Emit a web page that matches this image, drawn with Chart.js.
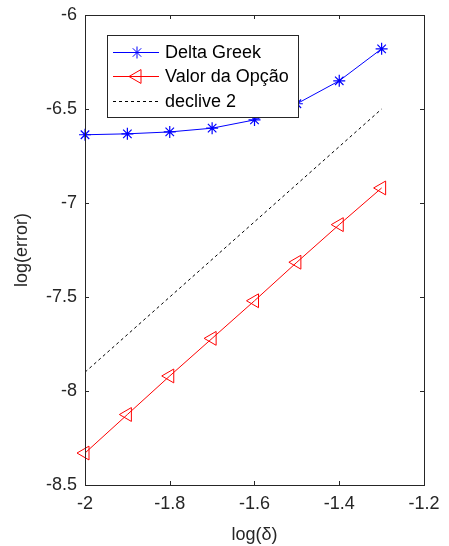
<!DOCTYPE html>
<html>
<head>
<meta charset="utf-8">
<script src="https://cdn.jsdelivr.net/npm/chart.js@4.4.0/dist/chart.umd.min.js"></script>
<style>
  html, body { margin: 0; padding: 0; background: #fff; }
  #wrap { width: 449px; height: 546px; }
</style>
</head>
<body>
<div id="wrap"><canvas id="chart" width="449" height="546"></canvas></div>
<script>
// Data
const logDelta = [-2, -1.9, -1.8, -1.7, -1.6, -1.5, -1.4, -1.3];
const deltaGreek = [-6.637, -6.632, -6.622, -6.602, -6.558, -6.472, -6.350, -6.180];
const valorOpcao = [-8.330, -8.125, -7.920, -7.720, -7.520, -7.315, -7.115, -6.920];
const slopeX = [-2, -1.3];
const slopeY = [-7.9, -6.5];
const xTicks = [-2, -1.8, -1.6, -1.4, -1.2];
const yTicks = [-8.5, -8, -7.5, -7, -6.5, -6];

const toPoints = (xs, ys) => xs.map((x, i) => ({ x: x, y: ys[i] }));
const FONT = '"Liberation Sans", Arial, sans-serif';
const AXIS_COLOR = '#262626';

// box around the axes with inward ticks on all sides, plus legend inside the plot
const boxPlugin = {
    id: 'boxPlugin',
    afterDatasetsDraw(chart) {
        const ctx = chart.ctx;
        const a = chart.chartArea;
        const xs = chart.scales.x;
        const ys = chart.scales.y;
        ctx.save();
        ctx.strokeStyle = AXIS_COLOR;
        ctx.lineWidth = 1;
        ctx.strokeRect(a.left + 0.5, a.top + 0.5, a.right - a.left, a.bottom - a.top);
        const len = 4;
        ctx.beginPath();
        xTicks.forEach(v => {
            const px = Math.round(xs.getPixelForValue(v)) + 0.5;
            ctx.moveTo(px, a.bottom); ctx.lineTo(px, a.bottom - len);
            ctx.moveTo(px, a.top); ctx.lineTo(px, a.top + len);
        });
        yTicks.forEach(v => {
            const py = Math.round(ys.getPixelForValue(v)) + 0.5;
            ctx.moveTo(a.left, py); ctx.lineTo(a.left + len, py);
            ctx.moveTo(a.right, py); ctx.lineTo(a.right - len, py);
        });
        ctx.stroke();

        // legend
        const lx = 107, ly = 35, lw = 191, lh = 82;
        ctx.fillStyle = '#fff';
        ctx.fillRect(lx, ly, lw, lh);
        ctx.strokeStyle = AXIS_COLOR;
        ctx.strokeRect(lx + 0.5, ly + 0.5, lw, lh);
        const rows = [52, 76, 101];
        ctx.font = '18px ' + FONT;
        ctx.textBaseline = 'middle';
        chart.data.datasets.forEach((ds, i) => {
            const y = rows[i] + 0.5;
            ctx.save();
            ctx.strokeStyle = ds.borderColor;
            ctx.lineWidth = 1;
            ctx.setLineDash(ds.borderDash || []);
            ctx.beginPath();
            ctx.moveTo(113, y); ctx.lineTo(159, y);
            ctx.stroke();
            ctx.restore();
            if (ds.pointRadius > 0) {
                ctx.save();
                ctx.strokeStyle = ds.borderColor;
                ctx.fillStyle = 'rgba(0,0,0,0)';
                ctx.lineWidth = 1;
                Chart.helpers.drawPoint(ctx, {
                    pointStyle: ds.pointStyle,
                    rotation: ds.pointRotation || 0,
                    radius: ds.pointRadius,
                    borderWidth: 1
                }, 137, y);
                ctx.restore();
            }
            ctx.fillStyle = '#000';
            ctx.fillText(ds.label, 165, y + 1);
        });
        ctx.restore();
    }
};

new Chart(document.getElementById('chart'), {
    type: 'scatter',
    data: {
        datasets: [
            {
                label: 'Delta Greek',
                data: toPoints(logDelta, deltaGreek),
                showLine: true,
                borderColor: '#0000ff',
                backgroundColor: '#0000ff',
                borderWidth: 1,
                pointStyle: 'star',
                pointRadius: 6,
                pointBorderWidth: 1.2,
                pointHoverRadius: 6,
                clip: false
            },
            {
                label: 'Valor da Opção',
                data: toPoints(logDelta, valorOpcao),
                showLine: true,
                borderColor: '#ff0000',
                backgroundColor: 'rgba(255,255,255,0)',
                borderWidth: 1,
                pointStyle: 'triangle',
                pointRotation: -90,
                pointRadius: 8,
                pointBorderWidth: 1,
                pointHoverRadius: 8,
                clip: false
            },
            {
                label: 'declive 2',
                data: toPoints(slopeX, slopeY),
                showLine: true,
                borderColor: '#000000',
                borderWidth: 1,
                borderDash: [3, 3],
                pointRadius: 0,
                pointHoverRadius: 0
            }
        ]
    },
    options: {
        responsive: false,
        animation: false,
        layout: { padding: { left: 0, top: 15, right: 25, bottom: 0 } },
        plugins: {
            legend: { display: false },
            tooltip: { enabled: false }
        },
        scales: {
            x: {
                type: 'linear',
                min: -2,
                max: -1.2,
                afterBuildTicks: (s) => { s.ticks = xTicks.map(v => ({ value: v })); },
                afterFit: (s) => { s.height = 61; s.paddingLeft = 0; s.paddingRight = 0; },
                grid: { display: false, drawTicks: false },
                border: { display: false },
                ticks: {
                    color: AXIS_COLOR,
                    font: { family: FONT, size: 18 },
                    padding: 8,
                    maxRotation: 0,
                    callback: (v) => String(Math.round(v * 10) / 10)
                },
                title: {
                    display: true,
                    text: 'log(δ)',
                    color: AXIS_COLOR,
                    font: { family: FONT, size: 18 },
                    padding: { top: 0, bottom: 0 }
                }
            },
            y: {
                type: 'linear',
                min: -8.5,
                max: -6,
                afterBuildTicks: (s) => { s.ticks = yTicks.map(v => ({ value: v })); },
                afterFit: (s) => { s.width = 85; s.paddingTop = 0; s.paddingBottom = 0; },
                grid: { display: false, drawTicks: false },
                border: { display: false },
                ticks: {
                    color: AXIS_COLOR,
                    font: { family: FONT, size: 18 },
                    padding: 8,
                    callback: (v) => String(Math.round(v * 10) / 10)
                },
                title: {
                    display: true,
                    text: 'log(error)',
                    color: AXIS_COLOR,
                    font: { family: FONT, size: 18 },
                    padding: { top: 11, bottom: 0 }
                }
            }
        }
    },
    plugins: [boxPlugin]
});
</script>
</body>
</html>
